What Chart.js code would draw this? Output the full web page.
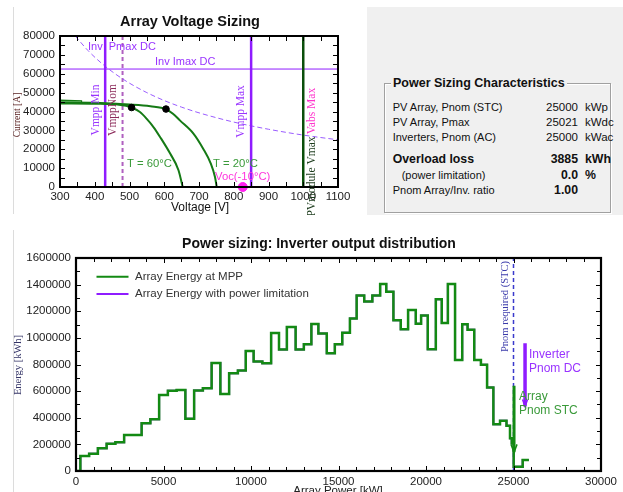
<!DOCTYPE html>
<html><head><meta charset="utf-8">
<script src="https://cdn.jsdelivr.net/npm/chart.js@4.4.0/dist/chart.umd.min.js"></script>
<style>
html,body{margin:0;padding:0;background:#fff;width:623px;height:492px;overflow:hidden;font-family:"Liberation Sans",Arial,sans-serif;}
#c1{position:absolute;left:0;top:0;}
#c2{position:absolute;left:0;top:228px;}
.vl{position:absolute;left:13px;width:1px;background:#dcdcdc;}
#panel{position:absolute;left:367px;top:7px;width:256px;height:208px;background:#f0f0f0;color:#111;}
#gb{position:absolute;left:17px;top:76px;width:225px;height:128px;border:1px solid #a0a0a0;box-shadow:1px 1px 0 #fff, inset 1px 1px 0 #fff;}
.gbt{position:absolute;left:24px;top:68px;line-height:16px;padding:0 2px;background:#f0f0f0;font-weight:bold;font-size:12.5px;}
.r{position:absolute;line-height:14px;font-size:11px;white-space:nowrap;}
.lab{left:25.7px;}
.val{left:150px;width:61px;text-align:right;font-size:11.5px;}
.unit{left:218px;font-size:11.5px;}
.b{font-weight:bold;font-size:12.3px;}
</style></head>
<body>
<div class="vl" style="top:7px;height:207px"></div>
<div class="vl" style="top:230px;height:262px"></div>
<canvas id="c1" width="365" height="215"></canvas>
<div id="panel">
  <div id="gb"></div>
  <div class="gbt">Power Sizing Characteristics</div>
  <div class="r lab" style="top:92.7px">PV Array, Pnom (STC)</div>
  <div class="r val" style="top:92.7px">25000</div>
  <div class="r unit" style="top:92.7px">kWp</div>
  <div class="r lab" style="top:107.7px">PV Array, Pmax</div>
  <div class="r val" style="top:107.7px">25021</div>
  <div class="r unit" style="top:107.7px">kWdc</div>
  <div class="r lab" style="top:123.3px">Inverters, Pnom (AC)</div>
  <div class="r val" style="top:123.3px">25000</div>
  <div class="r unit" style="top:123.3px">kWac</div>
  <div class="r lab b" style="top:145.3px">Overload loss</div>
  <div class="r val b" style="top:145.3px">3885</div>
  <div class="r unit b" style="top:145.3px">kWh</div>
  <div class="r lab" style="top:161px;left:34.7px">(power limitation)</div>
  <div class="r val b" style="top:161px">0.0</div>
  <div class="r unit b" style="top:161px">%</div>
  <div class="r lab" style="top:176px">Pnom Array/Inv. ratio</div>
  <div class="r val b" style="top:176px">1.00</div>
</div>
<canvas id="c2" width="623" height="264"></canvas>
<script>
// ================= TOP CHART DATA (Array Voltage Sizing) =================
const voltRange = [300, 1100];
const currentRange = [0, 80000];
const bandV = [300, 362, 362, 300, 300];
const bandI = [46000, 45700, 44300, 44400, 46000];
const t60V = [300, 400, 470, 490, 506, 530, 549, 570, 588, 617, 641, 653];
const t60I = [44300, 44100, 43600, 43000, 42100, 39700, 36200, 31500, 26500, 17700, 8900, 0];
const t20V = [300, 400, 500, 560, 605, 625, 645, 684, 712, 734, 746, 751];
const t20I = [44800, 44600, 43700, 42800, 41300, 38800, 35300, 28300, 20300, 12400, 5300, 0];
const mppV = [506, 605];
const mppI = [42100, 41300];
const invPmaxV = [344, 380, 420, 460, 500, 550, 600, 650, 700, 800, 900, 1000, 1100];
const invPmaxI = [80000, 72400, 65500, 59800, 55000, 50000, 45800, 42300, 39300, 34400, 30600, 27500, 25000];
const invImaxDC = 62500;
const vmppMin = 430, vmppNom = 480, vmppMax = 850, moduleVmax = 1000;
const vocMinus10 = 826;

// ================= BOTTOM CHART DATA (Inverter output distribution) =================
const powerRange = [0, 30000];
const energyRange = [0, 1600000];
const binStartKW = [0, 250, 750, 1250, 1750, 2250, 2750, 3250, 3750, 4250, 4750, 5250, 5750, 6250, 6750,
  7250, 7750, 8250, 8750, 9250, 9700, 10150, 10650, 11150, 11600, 12050, 12550, 13020, 13450, 13850,
  14330, 14790, 15216, 15653, 16037, 16470, 16935, 17380, 17730, 18138, 18557, 18976, 19416, 19720,
  20100, 20561, 20900, 21250, 21660, 22070, 22376, 22757, 23139, 23490, 23850, 24230, 24600, 24800,
  24900, 25010, 25525, 25880];
const energyMPP = [0, 113000, 130000, 171000, 205000, 216000, 271000, 271000, 359000, 389000, 571000, 602000, 609000, 393000, 604000,
  622000, 812000, 579000, 735000, 754000, 902000, 822000, 810000, 1036000, 913000, 1081000, 913000, 952000, 1104000, 1033000,
  884000, 952000, 1038000, 1146000, 1318000, 1274000, 1318000, 1404000, 1347000, 1132000, 1064000, 1209000, 1106000, 1169000,
  915000, 1291000, 1112000, 1404000, 834000, 1103000, 1061000, 834000, 799000, 627000, 352000, 378000, 340000, 246000,
  208000, 32000, 82000, 82000];
const energyLimited = energyMPP.slice();
const pnomRequiredSTC = 25000;
const arrayPnomSTC = [25030, 640000, 140000];   // x, top, bottom
const inverterPnomDC = [25660, 960000, 484000]; // x, top, bottom

// ================= helpers =================
const SANS = '"Liberation Sans", Arial, sans-serif';
const SERIF = '"Liberation Serif", "Times New Roman", serif';
const pts = (xs, ys) => xs.map((v, i) => ({x: v, y: ys[i]}));
const vline = (v, r) => [{x: v, y: r[0]}, {x: v, y: r[1]}];

function frameAndTicks(chart, o) {
  const {ctx, chartArea: a, scales: {x, y}} = chart;
  ctx.save();
  ctx.strokeStyle = '#000'; ctx.lineWidth = 1;
  ctx.beginPath();
  for (let v = x.min; v <= x.max + 1e-6; v += o.xMinor) {
    const px = Math.round(x.getPixelForValue(v)) + 0.5;
    const isMaj = Math.abs(v / o.xMajor - Math.round(v / o.xMajor)) < 1e-6;
    const len = isMaj ? o.maj : o.min;
    ctx.moveTo(px, a.bottom); ctx.lineTo(px, a.bottom - len);
    ctx.moveTo(px, a.top); ctx.lineTo(px, a.top + len);
  }
  for (let v = y.min; v <= y.max + 1e-6; v += o.yMinor) {
    const py = Math.round(y.getPixelForValue(v)) + 0.5;
    const isMaj = Math.abs(v / o.yMajor - Math.round(v / o.yMajor)) < 1e-6;
    const len = isMaj ? o.maj : o.min;
    ctx.moveTo(a.left, py); ctx.lineTo(a.left + len, py);
    ctx.moveTo(a.right, py); ctx.lineTo(a.right - len, py);
  }
  ctx.stroke();
  ctx.lineWidth = o.frame;
  ctx.strokeRect(a.left, a.top, a.right - a.left, a.bottom - a.top);
  ctx.restore();
}
function txt(ctx, s, x, y, color, font, align) {
  ctx.save(); ctx.fillStyle = color; ctx.font = font; ctx.textAlign = align || 'left';
  ctx.textBaseline = 'middle'; ctx.fillText(s, x, y); ctx.restore();
}
function vtxt(ctx, s, x, y, color, font) {
  ctx.save(); ctx.translate(x, y); ctx.rotate(-Math.PI / 2);
  ctx.fillStyle = color; ctx.font = font; ctx.textAlign = 'center'; ctx.textBaseline = 'middle';
  ctx.fillText(s, 0, 0); ctx.restore();
}

// ================= TOP CHART =================
const PURPLE = '#8f1cff', PURPLE_T = '#9933ff', DKGREEN = '#157a15';
const topPlugin = {
  id: 'topDeco',
  afterDraw(chart) {
    const {ctx, chartArea: a, scales: {x, y}} = chart;
    frameAndTicks(chart, {xMinor: 50, xMajor: 100, yMinor: 5000, yMajor: 10000, maj: 5, min: 5, frame: 2});
    const X = v => x.getPixelForValue(v), Y = v => y.getPixelForValue(v);
    txt(ctx, 'Array Voltage Sizing', 190, 21.5, '#111', 'bold 14.5px ' + SANS, 'center');
    txt(ctx, 'Voltage [V]', (a.left + a.right) / 2 + 1, 208, '#111', '12px ' + SANS, 'center');
    vtxt(ctx, 'Current [A]', 17, 115, '#5a2222', '9.5px ' + SERIF);
    txt(ctx, 'Inv  Pmax DC', 88, 46.5, PURPLE_T, '11px ' + SANS);
    txt(ctx, 'Inv Imax DC', 155, Y(invImaxDC) - 7.5, PURPLE_T, '11px ' + SANS);
    vtxt(ctx, 'Vmpp Min', X(vmppMin) - 9, 110, PURPLE_T, '11.5px ' + SERIF);
    vtxt(ctx, 'VmppNom', X(vmppNom) - 10, 110, '#8b2a5a', '11.5px ' + SERIF);
    vtxt(ctx, 'Vmpp Max', X(vmppMax) - 10, 111.5, PURPLE_T, '11.5px ' + SERIF);
    vtxt(ctx, 'Vabs Max', X(moduleVmax) + 8.5, 111, '#ff33cc', '11.5px ' + SERIF);
    vtxt(ctx, 'PVmodule Vmax', X(moduleVmax) + 8.5, 176.5, '#1a3a1a', '11.5px ' + SERIF);
    txt(ctx, 'T = 60\u00b0C', 127, 164, '#3a9a3a', '11.3px ' + SANS);
    txt(ctx, 'T = 20\u00b0C', 213, 164, '#3a9a3a', '11.3px ' + SANS);
    txt(ctx, 'Voc(-10\u00b0C)', 215, 177, '#ff33dd', '11.3px ' + SANS);
  }
};
new Chart(document.getElementById('c1'), {
  type: 'scatter',
  data: { datasets: [
    {data: pts(mppV, mppI), showLine: false, pointRadius: 3.3, pointBackgroundColor: '#000', pointBorderColor: '#000'},
    {data: [{x: vocMinus10, y: 0}], showLine: false, pointRadius: 4.5, pointBackgroundColor: '#ff22ee', pointBorderColor: '#ff22ee', clip: false},
    {data: pts(t60V, t60I), showLine: true, borderColor: DKGREEN, borderWidth: 2, pointRadius: 0, tension: 0.35, cubicInterpolationMode: 'monotone'},
    {data: pts(t20V, t20I), showLine: true, borderColor: DKGREEN, borderWidth: 2, pointRadius: 0, tension: 0.35, cubicInterpolationMode: 'monotone'},
    {data: pts(bandV, bandI), showLine: true, borderColor: DKGREEN, borderWidth: 1.2, pointRadius: 0, tension: 0, fill: 'shape', backgroundColor: '#8fd08f'},
    {data: vline(vmppMin, currentRange), showLine: true, borderColor: PURPLE, borderWidth: 2.5, pointRadius: 0},
    {data: vline(vmppMax, currentRange), showLine: true, borderColor: PURPLE, borderWidth: 2.5, pointRadius: 0},
    {data: vline(moduleVmax, currentRange), showLine: true, borderColor: '#0b4f0b', borderWidth: 2.5, pointRadius: 0},
    {data: [{x: voltRange[0], y: invImaxDC}, {x: voltRange[1], y: invImaxDC}], showLine: true, borderColor: PURPLE, borderWidth: 1, pointRadius: 0},
    {data: pts(invPmaxV, invPmaxI), showLine: true, borderColor: '#9a5cff', borderWidth: 1, borderDash: [5, 3], pointRadius: 0, tension: 0.4, cubicInterpolationMode: 'monotone'},
    {data: vline(vmppNom, currentRange), showLine: true, borderColor: '#b060c0', borderWidth: 2, borderDash: [4, 3], pointRadius: 0}
  ]},
  options: {
    responsive: false, animation: false, devicePixelRatio: 1,
    layout: {padding: {left: 0, right: 27, top: 36, bottom: 0}},
    plugins: {legend: {display: false}, tooltip: {enabled: false}},
    scales: {
      x: {type: 'linear', min: voltRange[0], max: voltRange[1],
        grid: {display: false, drawTicks: false}, border: {display: false},
        ticks: {stepSize: 100, padding: 3, color: '#222', font: {family: SANS, size: 11.5}, callback: v => String(v), maxRotation: 0},
        afterFit: s => { s.height = 28; }},
      y: {type: 'linear', min: currentRange[0], max: currentRange[1],
        grid: {display: false, drawTicks: false}, border: {display: false},
        ticks: {stepSize: 10000, padding: 5, color: '#222', font: {family: SANS, size: 11.5}, callback: v => String(v)},
        afterFit: s => { s.width = 60; }}
    }
  },
  plugins: [topPlugin]
});

// ================= BOTTOM CHART =================
const GREEN = '#138a13';
const botPlugin = {
  id: 'botDeco',
  afterDraw(chart) {
    const {ctx, chartArea: a, scales: {x, y}} = chart;
    frameAndTicks(chart, {xMinor: 1000, xMajor: 5000, yMinor: 100000, yMajor: 200000, maj: 5, min: 4, frame: 2.2});
    const X = v => x.getPixelForValue(v), Y = v => y.getPixelForValue(v);
    txt(ctx, 'Power sizing: Inverter output distribution', 319, 16, '#111', 'bold 14px ' + SANS, 'center');
    ctx.save(); ctx.fillStyle = '#222'; ctx.font = '11.5px ' + SANS; ctx.textAlign = 'center'; ctx.textBaseline = 'top';
    ctx.fillText('Array Power [kW]', 338, 257); ctx.restore();
    vtxt(ctx, 'Energy [kWh]', 18, 137, '#333366', '10.5px ' + SERIF);
    // legend
    const legend = chart.data.datasets.filter(d => d.legendText);
    legend.forEach((d, i) => {
      const ly = a.top + 18.7 + 17.3 * i;
      ctx.save(); ctx.strokeStyle = d.legendColor; ctx.lineWidth = 2;
      ctx.beginPath(); ctx.moveTo(a.left + 20.5, ly); ctx.lineTo(a.left + 52.5, ly); ctx.stroke(); ctx.restore();
      txt(ctx, d.legendText, a.left + 59, ly, '#333', '11.5px ' + SANS);
    });
    // arrowheads
    ctx.save(); ctx.lineWidth = 1.5;
    ctx.strokeStyle = GREEN; ctx.beginPath();
    ctx.moveTo(X(arrayPnomSTC[0]) - 3, Y(arrayPnomSTC[2]) - 8); ctx.lineTo(X(arrayPnomSTC[0]), Y(arrayPnomSTC[2]));
    ctx.lineTo(X(arrayPnomSTC[0]) + 3, Y(arrayPnomSTC[2]) - 8); ctx.stroke();
    ctx.strokeStyle = PURPLE; ctx.beginPath();
    ctx.moveTo(X(inverterPnomDC[0]) - 2.5, Y(inverterPnomDC[2]) - 7); ctx.lineTo(X(inverterPnomDC[0]), Y(inverterPnomDC[2]));
    ctx.lineTo(X(inverterPnomDC[0]) + 2.5, Y(inverterPnomDC[2]) - 7); ctx.stroke();
    ctx.restore();
    vtxt(ctx, 'Pnom required (STC)', X(pnomRequiredSTC) - 8, 78.5, '#3a3aaa', '10.5px ' + SERIF);
    txt(ctx, 'Inverter', 529, 127, PURPLE_T, '12px ' + SANS);
    txt(ctx, 'Pnom DC', 529, 140.5, PURPLE_T, '12px ' + SANS);
    txt(ctx, 'Array', 519, 169, '#3a9a3a', '12px ' + SANS);
    txt(ctx, 'Pnom STC', 519, 183, '#3a9a3a', '12px ' + SANS);
  }
};
new Chart(document.getElementById('c2'), {
  type: 'line',
  data: { datasets: [
    {data: pts(binStartKW, energyMPP), stepped: true, borderColor: GREEN, borderWidth: 2.5, pointRadius: 0, fill: false,
      legendText: 'Array Energy at MPP', legendColor: GREEN},
    {data: vline(arrayPnomSTC[0], arrayPnomSTC.slice(1)), borderColor: GREEN, borderWidth: 3, pointRadius: 0},
    {data: vline(inverterPnomDC[0], inverterPnomDC.slice(1)), borderColor: PURPLE, borderWidth: 3.5, pointRadius: 0},
    {data: vline(pnomRequiredSTC, energyRange), borderColor: '#3a3acc', borderWidth: 1.5, borderDash: [4, 3], pointRadius: 0},
    {data: pts(binStartKW, energyLimited), stepped: true, borderColor: PURPLE, borderWidth: 2, pointRadius: 0, fill: false,
      legendText: 'Array Energy with power limitation', legendColor: PURPLE}
  ]},
  options: {
    responsive: false, animation: false, devicePixelRatio: 1,
    layout: {padding: {left: 0, right: 22, top: 30, bottom: 0}},
    plugins: {legend: {display: false}, tooltip: {enabled: false}},
    scales: {
      x: {type: 'linear', min: powerRange[0], max: powerRange[1],
        grid: {display: false, drawTicks: false}, border: {display: false},
        ticks: {stepSize: 5000, padding: 4, color: '#222', font: {family: SANS, size: 11.5}, callback: v => String(v), maxRotation: 0},
        afterFit: s => { s.height = 21; }},
      y: {type: 'linear', min: energyRange[0], max: energyRange[1],
        grid: {display: false, drawTicks: false}, border: {display: false},
        ticks: {stepSize: 200000, padding: 5, color: '#222', font: {family: SANS, size: 11.5}, callback: v => String(v)},
        afterFit: s => { s.width = 76; }}
    }
  },
  plugins: [botPlugin]
});
</script>
</body></html>
